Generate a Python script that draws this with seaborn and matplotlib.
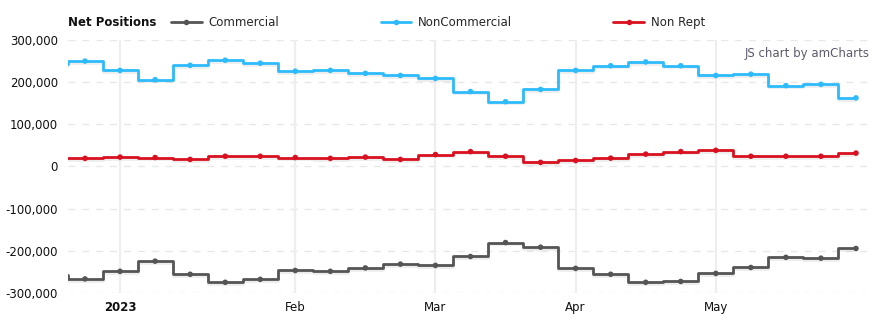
import matplotlib
matplotlib.use("Agg")
import matplotlib.pyplot as plt
import matplotlib.patheffects as pe
from matplotlib.ticker import FuncFormatter, FixedLocator
import seaborn as sns
import pandas as pd
import numpy as np

# ---- data ----
dates = ["2022-12-20", "2022-12-27", "2023-01-03", "2023-01-10", "2023-01-17", "2023-01-24",
         "2023-01-31", "2023-02-07", "2023-02-14", "2023-02-21", "2023-02-28", "2023-03-07",
         "2023-03-14", "2023-03-21", "2023-03-28", "2023-04-04", "2023-04-11", "2023-04-18",
         "2023-04-25", "2023-05-02", "2023-05-09", "2023-05-16", "2023-05-23", "2023-05-30"]
commercial = [-256000, -266000, -248000, -224000, -255000, -274000, -267000, -246000, -248000,
              -240000, -231000, -234000, -213000, -180000, -191000, -241000, -255000, -274000,
              -272000, -253000, -239000, -215000, -217000, -194000]
noncommercial = [241000, 249000, 227000, 205000, 239000, 251000, 244000, 225000, 227000,
                 220000, 215000, 208000, 177000, 153000, 182000, 227000, 238000, 247000,
                 238000, 215000, 218000, 191000, 194000, 162000]
nonrept = [19000, 19000, 22000, 21000, 16500, 24000, 24000, 21000, 19000, 22000, 16500, 28000,
           35000, 24000, 9500, 14000, 19500, 29000, 35000, 38000, 24000, 24000, 24000, 31500]
series_names = ["Commercial", "NonCommercial", "Non Rept"]
colors = ["#555555", "#2dbbfb", "#d9101f"]
yticks = [300000, 200000, 100000, 0, -100000, -200000, -300000]

# ---- frame ----
dt = pd.to_datetime(dates)
idx = np.arange(len(dates)) - 1  # first visible week is index 0
df = pd.concat([
    pd.DataFrame({"x": idx, "value": vals, "series": name, "date": dt})
    for name, vals in zip(series_names, [commercial, noncommercial, nonrept])
])

sns.set_theme(style="white")
plt.rcParams["font.family"] = ["DejaVu Sans"]

fig = plt.figure(figsize=(8.9, 3.27), dpi=100)
ax = fig.add_axes([67.5 / 890, 1 - 293.3 / 327, 806 / 890, (293.3 - 39.5) / 327])

sns.lineplot(data=df, x="x", y="value", hue="series", hue_order=series_names,
             palette=colors, drawstyle="steps-mid", marker="o", markersize=4,
             markeredgewidth=0, linewidth=2.0, ax=ax, legend=True, zorder=3)

for line in ax.get_lines():
    line.set_path_effects([pe.SimpleLineShadow(offset=(0, -1.2), shadow_color="#000000", alpha=0.07),
                           pe.Normal()])

ax.set_xlim(-0.5, 22.5)
ax.set_ylim(-300000, 300000)

# month ticks: first week of each month
months = dt.to_period("M")
tick_pos, tick_lab = [], []
for i in range(1, len(dates)):
    if idx[i] >= 0 and (months[i] != months[i - 1]):
        tick_pos.append(idx[i])
        d = dt[i]
        tick_lab.append(str(d.year) if d.month == 1 else d.strftime("%b"))
ax.xaxis.set_major_locator(FixedLocator(tick_pos))
ax.set_xticklabels(tick_lab)
for lab in ax.get_xticklabels():
    if lab.get_text().isdigit():
        lab.set_fontweight("bold")

ax.yaxis.set_major_locator(FixedLocator(yticks))
ax.yaxis.set_major_formatter(FuncFormatter(lambda v, p: f"{v:,.0f}"))

ax.tick_params(axis="both", length=0, labelsize=8.5, colors="#111111")
ax.tick_params(axis="x", pad=5.5)
ax.tick_params(axis="y", pad=7)

for s in ax.spines.values():
    s.set_visible(False)
ax.grid(False)
for y in yticks:
    ax.axhline(y, color="#e8e8e8", linewidth=1.0, linestyle=(0, (5, 5)), zorder=1)
for xp in tick_pos:
    ax.axvline(xp, color="#eeeeee", linewidth=1.6, zorder=1)

ax.set_xlabel("")
ax.set_ylabel("")

# legend
handles, labels = ax.get_legend_handles_labels()
leg = ax.legend(handles, labels, loc="lower left", bbox_to_anchor=(100 / 806, 1.028),
                ncol=3, frameon=False, fontsize=8.5, handlelength=2.6, handletextpad=0.55,
                columnspacing=8.6, borderaxespad=0.3, borderpad=0.0)
for h in leg.legend_handles:
    h.set_path_effects([])
fig.text(68 / 890, 1 - 22 / 327, "Net Positions", fontsize=8.5, fontweight="bold",
         ha="left", va="center", color="#111111")

fig.text(870 / 890, 1 - 53 / 327, "JS chart by amCharts", fontsize=8.5, color="#5a5a6e",
         ha="right", va="center")

fig.savefig("out.png", dpi=100, facecolor="white")
